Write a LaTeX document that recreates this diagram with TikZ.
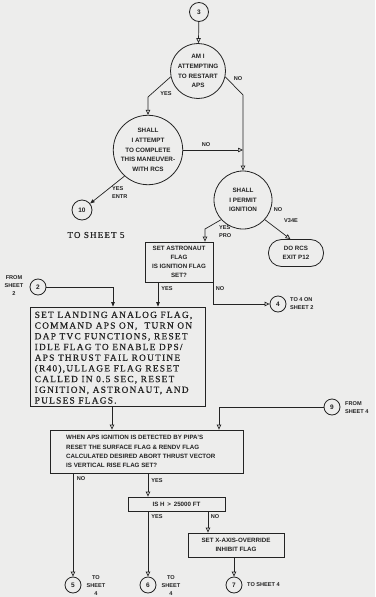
\documentclass[tikz,border=0pt]{standalone}
\usepackage{fontspec}
\setsansfont{Liberation Sans}
\newfontfamily\boxserif{Liberation Serif}[LetterSpace=13,FakeBold=0.6]
\usetikzlibrary{arrows.meta}
\definecolor{paper}{RGB}{237,237,236}
\definecolor{ink}{RGB}{35,35,35}
\begin{document}
\begin{tikzpicture}[x=1pt,y=-1pt,
  line/.style={draw=ink, line width=0.7pt},
  ho/.style={-{Triangle[open,width=4.5pt,length=5pt]}},
  fi/.style={-{Triangle[width=3.5pt,length=4.5pt]}},
  dec/.style={circle, draw=ink, line width=0.8pt, inner sep=0pt, align=center, text=ink,
    font=\sffamily\bfseries\fontsize{6.3}{9.8}\selectfont},
  conn/.style={circle, draw=ink, line width=0.8pt, minimum size=16pt, inner sep=0pt, text=ink,
    font=\sffamily\bfseries\fontsize{6.5}{7}\selectfont},
  sbox/.style={rectangle, draw=ink, line width=0.8pt, inner sep=0pt, align=center, text=ink,
    font=\sffamily\bfseries\fontsize{6.2}{9}\selectfont},
  lab/.style={inner sep=0pt, align=left, text=ink, font=\sffamily\bfseries\fontsize{5.6}{8}\selectfont},
  clab/.style={inner sep=0pt, align=center, text=ink, font=\sffamily\bfseries\fontsize{5.6}{8}\selectfont},
]
\fill[paper] (0,0) rectangle (375,597);
\useasboundingbox (0,0) rectangle (375,597);

% decision circles
\node[conn, minimum size=19pt] (c3) at (199,12) {3};
\node[dec, minimum size=55pt] (d1) at (198,71) {AM I\\ATTEMPTING\\TO RESTART\\APS};
\node[dec, minimum size=66pt] (d2) at (148,150) {SHALL\\I ATTEMPT\\TO COMPLETE\\THIS MANEUVER-\\WITH RCS};
\node[dec, minimum size=58pt] (d3) at (243,200) {SHALL\\I PERMIT\\IGNITION};
\node[conn, minimum size=20pt] (c10) at (82,210) {10};
\node[inner sep=0pt, text=ink, font=\boxserif\fontsize{9}{10}\selectfont] (ts5) at (96,235) {TO SHEET 5};
\node[sbox, rounded corners=13pt, minimum width=55pt, minimum height=27pt] (rcs) at (296,253) {DO RCS\\EXIT P12};

% boxes
\node[sbox, minimum width=68pt, minimum height=40pt] (astro) at (179,262) {SET ASTRONAUT\\FLAG\\IS IGNITION FLAG\\SET?};
\node[conn] (c2) at (38,287) {2};
\node[clab] (fr2) at (14,286) {FROM\\SHEET\\2};
\node[conn] (c4) at (278,304) {4};
\node[lab, anchor=west] (t4) at (290,304) {TO 4 ON\\SHEET 2};

\node[rectangle, draw=ink, line width=0.8pt, minimum width=175pt, minimum height=99pt, inner sep=0pt] (big) at (117.5,356.5) {};
\node[anchor=north west, inner sep=0pt, align=left, text=ink, font=\boxserif\fontsize{9.4}{10.7}\selectfont] (bigt) at (34.5,311.5) {SET LANDING ANALOG FLAG,\\COMMAND APS ON, \ TURN ON\\DAP TVC FUNCTIONS, RESET\\IDLE FLAG TO ENABLE DPS/\\APS THRUST FAIL ROUTINE\\(R40),ULLAGE FLAG RESET\\CALLED IN 0.5 SEC, RESET\\IGNITION, ASTRONAUT, AND\\PULSES FLAGS.};

\node[conn] (c9) at (332,407) {9};
\node[lab, anchor=west] (f4) at (345,408) {FROM\\SHEET 4};

\node[rectangle, draw=ink, line width=0.8pt, minimum width=193pt, minimum height=43pt, inner sep=0pt] (when) at (146.5,451.5) {};
\node[anchor=west, inner sep=0pt, align=left, text=ink, font=\sffamily\bfseries\fontsize{6.2}{9.2}\selectfont] (whent) at (66,451.5) {WHEN APS IGNITION IS DETECTED BY PIPA'S\\RESET THE SURFACE FLAG \& RENDV FLAG\\CALCULATED DESIRED ABORT THRUST VECTOR\\IS VERTICAL RISE FLAG SET?};

\node[sbox, minimum width=97pt, minimum height=14pt] (ish) at (176.5,504) {IS H \,>\, 25000 FT};
\node[sbox, minimum width=96pt, minimum height=24pt] (xaxis) at (236,545) {SET X-AXIS-OVERRIDE\\INHIBIT FLAG};

\node[conn] (c5) at (73,585) {5};
\node[conn] (c6) at (148,585) {6};
\node[conn] (c7) at (234,585) {7};
\node[clab] (t5) at (96,586) {TO\\SHEET\\4};
\node[clab] (t6) at (171,586) {TO\\SHEET\\4};
\node[lab, anchor=west] (t7) at (247,585) {TO SHEET 4};

% connectors
\draw[line,ho] (c3) -- (d1);
\coordinate (k1) at (148,97);
\draw[line,ho] (d1.192) -- (k1) -- (d2.north);
\coordinate (k2) at (243,95);
\draw[line,ho] (d1.-12) -- (k2) -- (d3.north);
\draw[line,ho] (d2.east) -- (d2.east -| d3.north);
\draw[line,fi] (d2.228) -- (c10);
\coordinate (k3) at (205,229);
\draw[line,ho] (d3.222) -- (k3) -- (k3 |- astro.north);
\draw[line,ho] (d3.-42) -- (rcs.112);
\draw[line,fi] (158,0 |- astro.south) -- (158,0 |- big.north);
\draw[line,ho] (astro.south east) -- (astro.south east |- c4) -- (c4);
\draw[line,fi] (c2) -- (113,0 |- c2) -- (113,0 |- big.north);
\draw[line,ho] (112,0 |- big.south) -- (112,0 |- when.north);
\draw[line,ho] (c9) -- (219,0 |- c9) -- (219,0 |- when.north);
\draw[line,ho] (c5 |- when.south) -- (c5);
\draw[line,ho] (148,0 |- when.south) -- (148,0 |- ish.north);
\draw[line,ho] (c6 |- ish.south) -- (c6);
\draw[line,ho] (208,0 |- ish.south) -- (208,0 |- xaxis.north);
\draw[line,ho] (c7 |- xaxis.south) -- (c7);

% labels
\node[lab] (l1) at (166,94) {YES};
\node[lab] (l2) at (238,79) {NO};
\node[lab] (l3) at (206,145) {NO};
\node[lab, anchor=west] (l4) at (112,193) {YES\\ENTR};
\node[lab, anchor=west] (l5) at (219,232) {YES\\PRO};
\node[lab] (l6) at (278,210) {NO};
\node[lab] (l7) at (291,221) {V34E};
\node[lab] (l8) at (167,289) {YES};
\node[lab] (l9) at (220,289) {NO};
\node[lab] (l10) at (81,479) {NO};
\node[lab] (l11) at (157,481) {YES};
\node[lab] (l12) at (157,517) {YES};
\node[lab] (l13) at (215,517) {NO};
\end{tikzpicture}
\end{document}
